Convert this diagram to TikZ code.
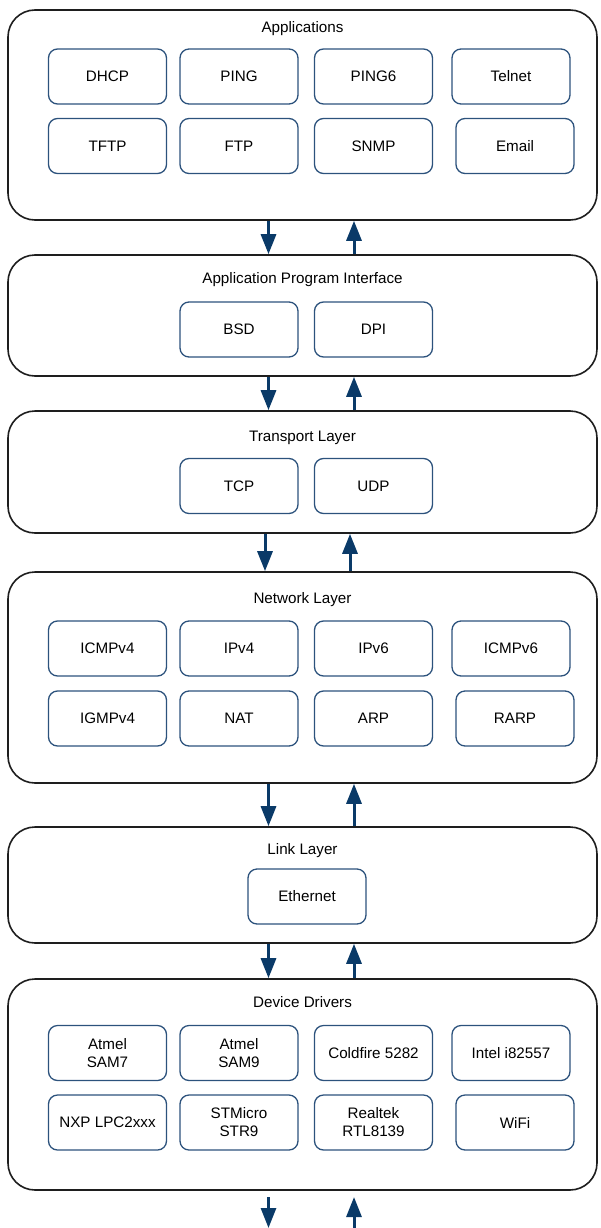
\documentclass[tikz,border=0pt]{standalone}
\usepackage{fontspec}
\setmainfont{Liberation Sans}
\usetikzlibrary{arrows.meta}
\definecolor{layerline}{RGB}{30,30,30}
\definecolor{boxline}{RGB}{44,82,124}
\definecolor{flowblue}{RGB}{10,58,104}

\begin{document}
\begin{tikzpicture}[x=1pt, y=-1pt,
    font=\fontsize{15.2}{18}\selectfont,
    layer/.style={draw=layerline, line width=1.6pt, rounded corners=27pt,
      minimum width=589pt, inner sep=0pt},
    proto/.style={draw=boxline, line width=1.3pt, rounded corners=9pt,
      minimum width=118pt, minimum height=55pt, inner sep=0pt, align=center},
    flow/.style={draw=flowblue, line width=3pt, -{Triangle[width=15pt,length=20pt]}}]

    \useasboundingbox (0,0) rectangle (600,1228);

    \node[layer, minimum height=210pt] (app) at (302.5,115) {};
    \node (title1) at (302.5,28.5) {Applications};

    \node[proto] (a1) at (107.5,76.5) {DHCP};
    \node[proto] (a2) at (239,76.5) {PING};
    \node[proto] (a3) at (373.5,76.5) {PING6};
    \node[proto] (a4) at (511,76.5) {Telnet};
    \node[proto] (a5) at (107.5,146) {TFTP};
    \node[proto] (a6) at (239,146) {FTP};
    \node[proto] (a7) at (373.5,146) {SNMP};
    \node[proto] (a8) at (515,146) {Email};

    \node[layer, minimum height=121pt] (api) at (302.5,315.5) {};
    \node (title2) at (302.5,279.5) {Application Program Interface};

    \node[proto] (b1) at (239,329.5) {BSD};
    \node[proto] (b2) at (373.5,329.5) {DPI};

    \node[layer, minimum height=122pt] (trans) at (302.5,472) {};
    \node (title3) at (302.5,437.5) {Transport Layer};

    \node[proto] (c1) at (239,486) {TCP};
    \node[proto] (c2) at (373.5,486) {UDP};

    \node[layer, minimum height=211pt] (net) at (302.5,677.5) {};
    \node (title4) at (302.5,599.5) {Network Layer};

    \node[proto] (d1) at (107.5,648.5) {ICMPv4};
    \node[proto] (d2) at (239,648.5) {IPv4};
    \node[proto] (d3) at (373.5,648.5) {IPv6};
    \node[proto] (d4) at (511,648.5) {ICMPv6};
    \node[proto] (d5) at (107.5,718.5) {IGMPv4};
    \node[proto] (d6) at (239,718.5) {NAT};
    \node[proto] (d7) at (373.5,718.5) {ARP};
    \node[proto] (d8) at (515,718.5) {RARP};

    \node[layer, minimum height=116pt] (link) at (302.5,885) {};
    \node (title5) at (302.5,850.5) {Link Layer};

    \node[proto] (e1) at (307,896.5) {Ethernet};

    \node[layer, minimum height=211pt] (drv) at (302.5,1084.5) {};
    \node (title6) at (302.5,1002.5) {Device Drivers};

    \node[proto] (f1) at (107.5,1053) {Atmel\\SAM7};
    \node[proto] (f2) at (239,1053) {Atmel\\SAM9};
    \node[proto] (f3) at (373.5,1053) {Coldfire 5282};
    \node[proto] (f4) at (511,1053) {Intel i82557};
    \node[proto] (f5) at (107.5,1122.5) {NXP LPC2xxx};
    \node[proto] (f6) at (239,1122.5) {STMicro\\STR9};
    \node[proto] (f7) at (373.5,1122.5) {Realtek\\RTL8139};
    \node[proto] (f8) at (515,1122.5) {WiFi};

    \coordinate (dn) at (268.5,0);
    \coordinate (up) at (354,0);
    \coordinate (dn2) at (265,0);
    \coordinate (up2) at (350,0);
    \coordinate (wire1) at (268.5,1197);
    \coordinate (wire2) at (268.5,1228);
    \coordinate (wire3) at (354,1228);
    \coordinate (wire4) at (354,1197);

    \draw[flow] (app.south -| dn) -- (api.north -| dn);
    \draw[flow] (api.north -| up) -- (app.south -| up);
    \draw[flow] (api.south -| dn) -- (trans.north -| dn);
    \draw[flow] (trans.north -| up) -- (api.south -| up);
    \draw[flow] (trans.south -| dn2) -- (net.north -| dn2);
    \draw[flow] (net.north -| up2) -- (trans.south -| up2);
    \draw[flow] (net.south -| dn) -- (link.north -| dn);
    \draw[flow] (link.north -| up) -- (net.south -| up);
    \draw[flow] (link.south -| dn) -- (drv.north -| dn);
    \draw[flow] (drv.north -| up) -- (link.south -| up);
    \draw[flow] (wire1) -- (wire2);
    \draw[flow] (wire3) -- (wire4);
\end{tikzpicture}
\end{document}
